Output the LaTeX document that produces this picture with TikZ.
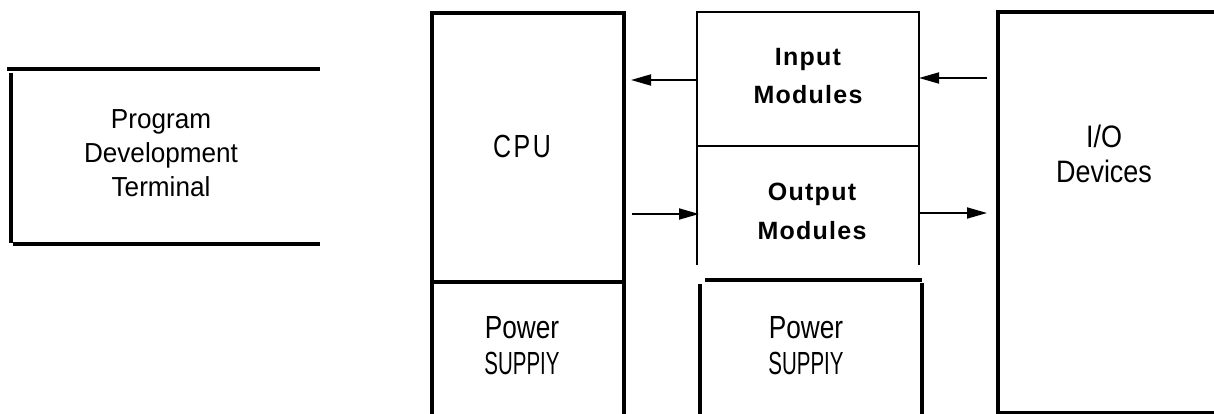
\documentclass[tikz,border=0pt]{standalone}
\usepackage{fontspec}
\setmainfont{Liberation Sans}
\newfontfamily\fterm{Liberation Sans}[FakeStretch=0.95]
\newfontfamily\fcpu{Liberation Sans}[FakeStretch=0.78,LetterSpace=8]
\newfontfamily\fpow{Liberation Sans}[FakeStretch=0.82]
\newfontfamily\fsup{Liberation Sans}[FakeStretch=0.64]
\newfontfamily\fio{Liberation Sans}[FakeStretch=0.87]
\newfontfamily\fmod{Liberation Sans}[LetterSpace=5]
\usetikzlibrary{arrows.meta}
\begin{document}
\begin{tikzpicture}[x=1pt,y=-1pt,line join=miter]
\useasboundingbox (0,0) rectangle (1214,414);
\tikzset{
  heavy/.style={line width=4.5pt},
  med/.style={line width=3.2pt},
  thinbox/.style={line width=2.2pt},
  conn/.style={line width=1.8pt,-{Triangle[length=20pt,width=11pt]}},
  lbl/.style={inner sep=0pt,align=center,text=black},
}
% Program Development Terminal
\draw[heavy] (7,69) -- (320,69);
\draw[med] (11,73) -- (11,243);
\draw[med] (13,244) -- (320,244);
\node[lbl,font=\fterm\fontsize{27.5}{34}\selectfont] (term) at (161,153) {Program\\Development\\Terminal};
% CPU
\draw[med] (432,414) -- (432,13) -- (624,13) -- (624,414);
\draw[med] (433,282) -- (623,282);
\node[lbl,font=\fcpu\fontsize{32}{38}\selectfont,anchor=base] (cpu) at (522,158) {CPU};
\node[lbl,font=\fontsize{32}{36}\selectfont] (ps1) at (522,346) {{\fpow Power}\\{\fsup SUPPIY}};
% Input / Output modules
\draw[thinbox] (697,265) -- (697,12) -- (919,12) -- (919,265);
\draw[thinbox] (697,146) -- (919,146);
\node[lbl,font=\fmod\bfseries\fontsize{25}{38}\selectfont] (inp) at (808,76) {Input\\Modules};
\node[lbl,font=\fmod\bfseries\fontsize{25}{39}\selectfont] (outp) at (812,211.5) {Output\\Modules};
% Power supply 2
\draw[med] (705,280) -- (922,280);
\draw[med] (700,284) -- (700,414);
\draw[med] (922,283) -- (922,414);
\node[lbl,font=\fontsize{32}{36}\selectfont] (ps2) at (806,346) {{\fpow Power}\\{\fsup SUPPIY}};
% I/O devices
\draw[med] (1214,12) -- (998,12) -- (998,413) -- (1214,413);
\node[lbl,font=\fio\fontsize{31}{35}\selectfont] (io) at (1104,154) {I/O\\Devices};
% connectors
\coordinate (a1s) at (697,80);
\coordinate (a1e) at (631,80);
\coordinate (a2s) at (987,78);
\coordinate (a2e) at (919,78);
\coordinate (a3s) at (632,214);
\coordinate (a3e) at (699,214);
\coordinate (a4s) at (920,213);
\coordinate (a4e) at (987,213);
\draw[conn] (a1s) -- (a1e);
\draw[conn] (a2s) -- (a2e);
\draw[conn] (a3s) -- (a3e);
\draw[conn] (a4s) -- (a4e);
\end{tikzpicture}
\end{document}
